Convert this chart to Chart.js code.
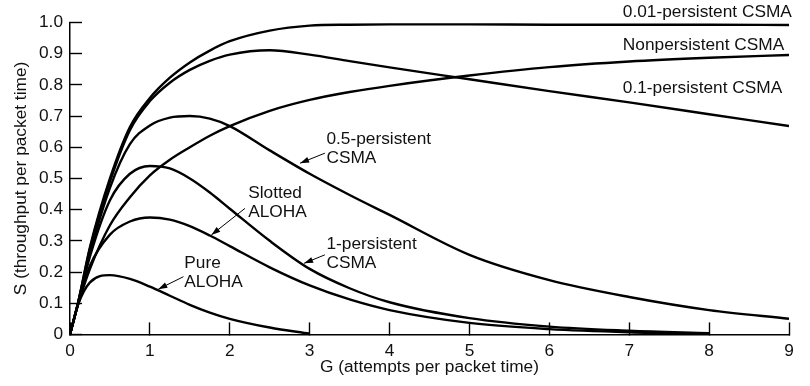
<!DOCTYPE html>
<html>
<head>
<meta charset="utf-8">
<script src="https://cdn.jsdelivr.net/npm/chart.js@4.4.0/dist/chart.umd.min.js"></script>
<style>
  html, body { margin: 0; padding: 0; background: #fff; }
  #wrap { width: 810px; height: 386px; }
</style>
</head>
<body>
<div id="wrap"><canvas id="chart" width="810" height="386"></canvas></div>
<script>
// G (attempts per packet time) sample points, shared by all curves
const gValues = [0, 0.1, 0.25, 0.5, 0.75, 1, 1.25, 1.5, 1.75, 2, 2.5, 3, 3.5, 4, 5, 6, 7, 8, 9];

// S (throughput); null = curve has ended
const pureAloha      = [0, 0.095, 0.167, 0.19, 0.178, 0.153, 0.124, 0.095, 0.07, 0.05, 0.022, 0.002, null, null, null, null, null, null, null];
const slottedAloha   = [0, 0.095, 0.22, 0.32, 0.362, 0.375, 0.368, 0.347, 0.317, 0.283, 0.215, 0.157, 0.112, 0.078, 0.037, 0.017, 0.007, 0.002, null];
const persistent1    = [0, 0.1, 0.25, 0.43, 0.515, 0.54, 0.532, 0.5, 0.455, 0.403, 0.3, 0.21, 0.148, 0.103, 0.052, 0.025, 0.012, 0.004, null];
const persistent05   = [0, 0.1, 0.26, 0.47, 0.61, 0.67, 0.695, 0.7, 0.692, 0.668, 0.59, 0.515, 0.447, 0.383, 0.255, 0.174, 0.12, 0.078, 0.05];
const persistent01   = [0, 0.095, 0.21, 0.35, 0.44, 0.51, 0.56, 0.6, 0.637, 0.668, 0.717, 0.752, 0.777, 0.797, 0.83, 0.857, 0.875, 0.887, 0.896];
const nonpersistent  = [0, 0.1, 0.275, 0.49, 0.655, 0.748, 0.807, 0.848, 0.877, 0.897, 0.911, 0.897, 0.876, 0.856, 0.818, 0.78, 0.744, 0.706, 0.668];
const persistent001  = [0, 0.1, 0.28, 0.5, 0.665, 0.758, 0.823, 0.872, 0.91, 0.94, 0.974, 0.99, 0.993, 0.994, 0.994, 0.993, 0.993, 0.993, 0.992];

const xTicks = [0, 1, 2, 3, 4, 5, 6, 7, 8, 9];
const yTicks = [0, 0.1, 0.2, 0.3, 0.4, 0.5, 0.6, 0.7, 0.8, 0.9, 1.0];

// text labels (in data coords) and leader arrows
const curveLabels = [
  { lines: ["0.01-persistent CSMA"], g: 6.92, s: 1.034 },
  { lines: ["Nonpersistent CSMA"], g: 6.92, s: 0.928 },
  { lines: ["0.1-persistent CSMA"], g: 6.92, s: 0.789 },
  { lines: ["0.5-persistent", "CSMA"], g: 3.21, s: 0.626 },
  { lines: ["Slotted", "ALOHA"], g: 2.23, s: 0.4525 },
  { lines: ["1-persistent", "CSMA"], g: 3.21, s: 0.289 },
  { lines: ["Pure", "ALOHA"], g: 1.43, s: 0.228 },
];
const arrows = [
  { from: [3.19, 0.581], to: [2.88, 0.549] },
  { from: [2.19, 0.404], to: [1.77, 0.319] },
  { from: [3.19, 0.255], to: [2.93, 0.228] },
  { from: [1.42, 0.185], to: [1.105, 0.145] },
];

const FONT = '"Liberation Sans", Arial, Helvetica, sans-serif';
const FONT_SIZE = 17.3;

function toPoints(series) {
  return gValues
    .map((g, i) => ({ x: g, y: series[i] }))
    .filter((p) => p.y !== null);
}

function curve(label, series) {
  return {
    label,
    data: toPoints(series),
    borderColor: "#000",
    borderWidth: 2.4,
    pointRadius: 0,
    fill: false,
    cubicInterpolationMode: "monotone",
  };
}

// text labels and arrows
const decorations = {
  id: "decorations",
  afterDraw(chart) {
    const ctx = chart.ctx;
    const xs = chart.scales.x;
    const ys = chart.scales.y;
    ctx.save();
    ctx.fillStyle = "#111";
    ctx.font = FONT_SIZE + "px " + FONT;
    ctx.textAlign = "left";
    ctx.textBaseline = "middle";
    curveLabels.forEach((lb) => {
      const x = xs.getPixelForValue(lb.g);
      const y = ys.getPixelForValue(lb.s);
      lb.lines.forEach((t, i) => ctx.fillText(t, x, y + i * 19));
    });

    ctx.strokeStyle = "#000";
    ctx.lineWidth = 1;
    ctx.fillStyle = "#000";
    arrows.forEach((a) => {
      const x1 = xs.getPixelForValue(a.from[0]);
      const y1 = ys.getPixelForValue(a.from[1]);
      const x2 = xs.getPixelForValue(a.to[0]);
      const y2 = ys.getPixelForValue(a.to[1]);
      const ang = Math.atan2(y2 - y1, x2 - x1);
      ctx.beginPath();
      ctx.moveTo(x1, y1);
      ctx.lineTo(x2, y2);
      ctx.stroke();
      ctx.beginPath();
      ctx.moveTo(x2, y2);
      ctx.lineTo(x2 - 9 * Math.cos(ang) + 3 * Math.sin(ang), y2 - 9 * Math.sin(ang) - 3 * Math.cos(ang));
      ctx.lineTo(x2 - 9 * Math.cos(ang) - 3 * Math.sin(ang), y2 - 9 * Math.sin(ang) + 3 * Math.cos(ang));
      ctx.closePath();
      ctx.fill();
    });
    ctx.restore();
  },
};

// tick marks point into the plot (negative tick length)
const innerGrid = {
  display: true,
  drawOnChartArea: false,
  drawTicks: true,
  tickLength: -12,
  tickColor: "#000",
  tickWidth: 1.4,
};

new Chart(document.getElementById("chart"), {
  type: "line",
  data: {
    datasets: [
      curve("Pure ALOHA", pureAloha),
      curve("Slotted ALOHA", slottedAloha),
      curve("1-persistent CSMA", persistent1),
      curve("0.5-persistent CSMA", persistent05),
      curve("0.1-persistent CSMA", persistent01),
      curve("Nonpersistent CSMA", nonpersistent),
      curve("0.01-persistent CSMA", persistent001),
    ],
  },
  options: {
    responsive: false,
    animation: false,
    layout: { padding: { top: 22.5, right: 21, left: 0, bottom: 0 } },
    plugins: { legend: { display: false }, tooltip: { enabled: false } },
    scales: {
      x: {
        type: "linear",
        min: 0,
        max: 9,
        afterBuildTicks: (scale) => { scale.ticks = xTicks.map((v) => ({ value: v })); },
        afterFit: (scale) => {
          scale.height = 51.6;
          scale.paddingLeft = 0;
          scale.paddingRight = 0;
        },
        grid: innerGrid,
        border: { display: true, color: "#000", width: 1.5 },
        ticks: { color: "#111", font: { family: FONT, size: FONT_SIZE }, padding: 18, maxRotation: 0 },
        title: {
          display: true,
          text: "G (attempts per packet time)",
          color: "#111",
          font: { family: FONT, size: FONT_SIZE },
          padding: { top: 0, bottom: 8 },
        },
      },
      y: {
        min: 0,
        max: 1,
        afterBuildTicks: (scale) => { scale.ticks = yTicks.map((v) => ({ value: v })); },
        afterFit: (scale) => {
          scale.width = 70;
          scale.paddingTop = 0;
          scale.paddingBottom = 0;
        },
        grid: innerGrid,
        border: { display: true, color: "#000", width: 1.5 },
        ticks: {
          color: "#111",
          font: { family: FONT, size: FONT_SIZE },
          padding: 19,
          callback: (v) => (v === 0 ? "0" : v.toFixed(1)),
        },
        title: {
          display: true,
          text: "S (throughput per packet time)",
          color: "#111",
          font: { family: FONT, size: FONT_SIZE },
          padding: { top: 11, bottom: 0 },
        },
      },
    },
  },
  plugins: [decorations],
});
</script>
</body>
</html>
